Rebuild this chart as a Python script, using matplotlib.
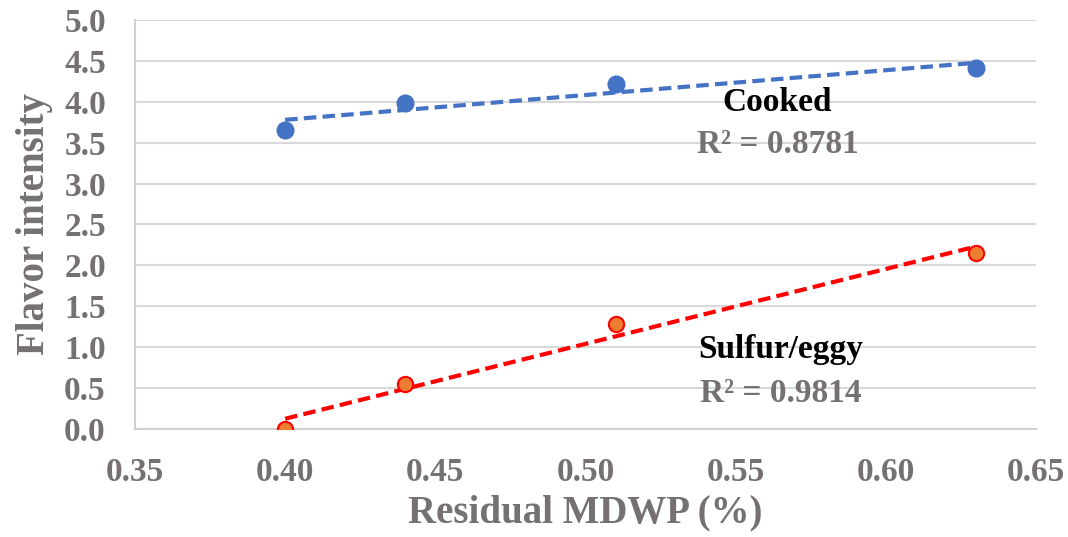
import numpy as np
import matplotlib
matplotlib.use('Agg')
import matplotlib.pyplot as plt

# data
mdwp = [0.40, 0.44, 0.51, 0.63]
cooked = [3.65, 3.99, 4.22, 4.41]
sulfur = [0.0, 0.55, 1.28, 2.15]
x_ticks = [0.35, 0.40, 0.45, 0.50, 0.55, 0.60, 0.65]
y_ticks = [0.0, 0.5, 1.0, 1.5, 2.0, 2.5, 3.0, 3.5, 4.0, 4.5, 5.0]

gray = '#767171'
plt.rcParams['font.family'] = ['Liberation Serif', 'DejaVu Serif']
plt.rcParams['font.weight'] = 'bold'

fig = plt.figure(figsize=(10.68, 5.37), dpi=100)
ax = fig.add_axes([0.1264, 0.2011, 0.8436, 0.7617])

# trendlines
xs = np.array([min(mdwp), max(mdwp)])
for vals, col in [(cooked, '#4472C4'), (sulfur, '#FF0000')]:
    k, b = np.polyfit(mdwp, vals, 1)
    ax.plot(xs, k * xs + b, color=col, lw=3, ls=(0, (3, 1.5)), zorder=3)

ax.plot(mdwp, cooked, 'o', ms=12, color='#4472C4', zorder=4)
ax.plot(mdwp, sulfur, 'o', ms=11, mfc='#ED7D31', mec='#FF0000', mew=1.5, zorder=4)

ax.set_xlim(0.35, 0.65)
ax.set_ylim(0, 5)
ax.set_xticks(x_ticks)
ax.set_yticks(y_ticks)
ax.set_xticklabels(['%.2f' % v for v in x_ticks])
ax.set_yticklabels(['%.1f' % v for v in y_ticks])
ax.tick_params(length=0, labelsize=24, colors=gray)
ax.tick_params(axis='y', pad=21)
ax.tick_params(axis='x', pad=20)
ax.grid(axis='y', color='#d9d9d9', lw=1.5)
ax.set_axisbelow(True)
for s in ['top', 'right']:
    ax.spines[s].set_visible(False)
for s in ['bottom', 'left']:
    ax.spines[s].set_color('#d0d0d0')
    ax.spines[s].set_linewidth(1.5)

ax.set_xlabel('Residual MDWP (%)', fontsize=28, fontweight='bold', color=gray, labelpad=5)
ax.set_ylabel('Flavor intensity', fontsize=28, fontweight='bold', color=gray, labelpad=8)

ax.text(0.564, 3.99, 'Cooked', fontsize=24, color='black', ha='center', va='center')
ax.text(0.564, 3.48, 'R² = 0.8781', fontsize=24, color=gray, ha='center', va='center')
ax.text(0.565, 0.97, 'Sulfur/eggy', fontsize=24, color='black', ha='center', va='center')
ax.text(0.565, 0.44, 'R² = 0.9814', fontsize=24, color=gray, ha='center', va='center')

fig.savefig('out.png', dpi=100)
